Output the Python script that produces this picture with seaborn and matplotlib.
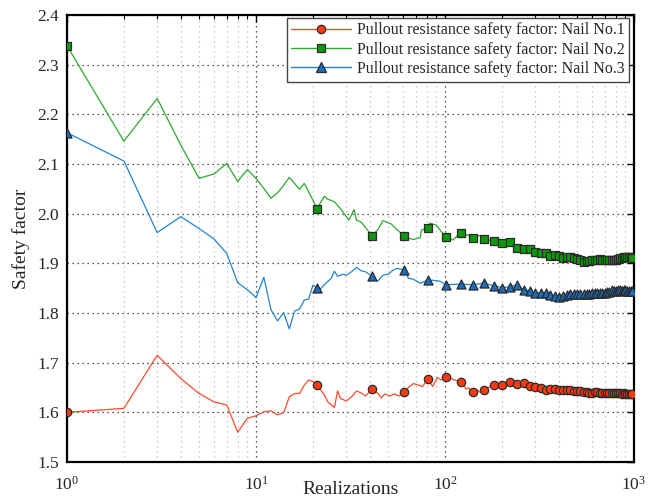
import numpy as np
import pandas as pd
import matplotlib
matplotlib.use("Agg")
import matplotlib.pyplot as plt
from matplotlib.lines import Line2D
from matplotlib.ticker import LogLocator, MultipleLocator, NullFormatter
import seaborn as sns

# ---- data: running safety factor vs. number of realizations ----
nail1_x = [1, 2, 3, 4, 5, 6, 7, 8, 9, 10, 11, 12, 13, 14, 15, 16, 17, 18, 19, 20,
           21, 23, 24, 26, 27, 28, 30, 32, 34, 36, 38, 41, 44, 46, 48, 51, 54, 57,
           61, 64, 68, 72, 76, 81, 86, 91, 96, 101, 104, 110, 116, 121, 125, 129,
           133, 141, 147, 152, 161, 181, 201, 221, 241, 261, 281, 301, 321, 341,
           361, 381, 401, 421, 441, 461, 481, 501, 521, 541, 561, 581, 601, 621,
           641, 661, 681, 701, 721, 741, 761, 781, 801, 821, 841, 861, 881, 901,
           921, 941, 961, 981, 1000]
nail1_sf = [1.600, 1.608, 1.715, 1.668, 1.638, 1.621, 1.615, 1.560, 1.588, 1.593,
            1.601, 1.603, 1.595, 1.599, 1.631, 1.638, 1.638, 1.655, 1.665, 1.662,
            1.655, 1.635, 1.621, 1.610, 1.643, 1.628, 1.623, 1.631, 1.643, 1.639,
            1.633, 1.646, 1.639, 1.629, 1.637, 1.633, 1.637, 1.633,
            1.640, 1.650, 1.658, 1.655, 1.652, 1.667, 1.652, 1.670, 1.665, 1.672,
            1.674, 1.666, 1.664, 1.661, 1.656, 1.647,
            1.649, 1.640, 1.646, 1.641, 1.645, 1.656, 1.655, 1.662, 1.658, 1.660,
            1.653, 1.651, 1.648, 1.645, 1.646, 1.646, 1.645, 1.645, 1.644, 1.644,
            1.643, 1.643, 1.642, 1.641, 1.640, 1.639, 1.639, 1.640, 1.640, 1.639,
            1.639, 1.639, 1.639, 1.638, 1.638, 1.638, 1.638, 1.638, 1.638, 1.637,
            1.638, 1.637, 1.637, 1.637, 1.637, 1.637, 1.636]

nail2_x = [1, 2, 3, 4, 5, 6, 7, 8, 9, 10, 11, 12, 13, 14, 15, 16, 17, 18, 19, 20,
           21, 23, 24, 26, 28, 31, 33, 34, 36, 41, 44, 47, 49, 52, 56, 61, 65, 68,
           74, 75, 81, 83, 90, 96, 101, 105, 110, 115, 121, 127, 131, 135, 141,
           147, 153, 158, 161, 181, 201, 221, 241, 261, 281, 301, 321, 341, 361,
           381, 401, 421, 441, 461, 481, 501, 521, 541, 561, 581, 601, 621, 641,
           661, 681, 701, 721, 741, 761, 781, 801, 821, 841, 861, 881, 901, 921,
           941, 961, 981, 1000]
nail2_sf = [2.338, 2.146, 2.232, 2.138, 2.071, 2.080, 2.101, 2.065, 2.089, 2.071,
            2.051, 2.031, 2.042, 2.057, 2.073, 2.061, 2.049, 2.061, 2.044, 2.027,
            2.010, 2.035, 2.029, 2.024, 2.010, 1.987, 2.008, 1.987, 1.983, 1.956,
            1.967, 1.986, 1.983, 1.979, 1.967, 1.955, 1.950, 1.948,
            1.952, 1.967, 1.971, 1.981, 1.977, 1.963, 1.953, 1.952, 1.947, 1.954,
            1.961, 1.954, 1.958, 1.954, 1.951,
            1.955, 1.956, 1.949, 1.949, 1.945, 1.941, 1.943, 1.930, 1.929, 1.929,
            1.923, 1.920, 1.920, 1.915, 1.917, 1.914, 1.910, 1.912, 1.912, 1.910,
            1.909, 1.907, 1.903, 1.904, 1.905, 1.906, 1.906, 1.907, 1.909, 1.907,
            1.906, 1.906, 1.906, 1.906, 1.907, 1.907, 1.908, 1.910, 1.910, 1.912,
            1.912, 1.913, 1.913, 1.912, 1.911, 1.910]

nail3_x = [1, 2, 3, 4, 5, 6, 7, 8, 9, 10, 11, 12, 13, 14, 15, 16, 17, 18, 19, 20,
           21, 22, 23, 25, 26, 27, 29, 30, 32, 34, 36, 38, 41, 44, 47, 50, 53, 56,
           61, 64, 68, 74, 81, 86, 94, 101, 121, 141, 161, 181, 201, 221, 241,
           261, 281, 301, 321, 341, 361, 381, 401, 421, 441, 461, 481, 501, 521,
           541, 561, 581, 601, 621, 641, 661, 681, 701, 721, 741, 761, 781, 801,
           821, 841, 861, 881, 901, 921, 941, 961, 981, 1000]
nail3_sf = [2.163, 2.106, 1.962, 1.994, 1.970, 1.949, 1.920, 1.861, 1.847, 1.831,
            1.872, 1.807, 1.784, 1.801, 1.768, 1.804, 1.808, 1.826, 1.828, 1.856,
            1.851, 1.849, 1.857, 1.870, 1.884, 1.874, 1.878, 1.876, 1.883, 1.892,
            1.885, 1.883, 1.874, 1.864, 1.876, 1.878, 1.886, 1.890,
            1.886, 1.870, 1.868, 1.860, 1.866, 1.866, 1.864, 1.857, 1.858, 1.857,
            1.860, 1.855, 1.851, 1.853, 1.857,
            1.847, 1.844, 1.841, 1.841, 1.840, 1.837, 1.835, 1.833, 1.834, 1.837,
            1.838, 1.838, 1.838, 1.838, 1.838, 1.839, 1.839, 1.840, 1.840, 1.840,
            1.841, 1.840, 1.840, 1.842, 1.843, 1.846, 1.845, 1.845, 1.846, 1.846,
            1.845, 1.846, 1.846, 1.845, 1.845, 1.845, 1.844, 1.844]

series_labels = ["Pullout resistance safety factor: Nail No.1",
                 "Pullout resistance safety factor: Nail No.2",
                 "Pullout resistance safety factor: Nail No.3"]
line_colors = ["#FF4A2A", "#2CAA2C", "#2283D2"]
face_colors = ["#FF3A10", "#0A9A0A", "#1A6EBE"]
marker_shapes = ["o", "s", "^"]
marker_sizes = [6, 5.5, 6.5]
marker_step = 20  # a marker every 20 realizations, starting at 1

# ---- style ----
sns.set_style("white")
plt.rcParams["font.family"] = ["Liberation Serif", "DejaVu Serif"]
plt.rcParams["mathtext.fontset"] = "custom"
plt.rcParams["mathtext.rm"] = "Liberation Serif"
plt.rcParams["xtick.direction"] = "in"
plt.rcParams["ytick.direction"] = "in"

fig = plt.figure(figsize=(6.61, 5.03), dpi=100)
ax = fig.add_axes([67 / 661, 41 / 503, 567 / 661, 447 / 503])

frames = []
for xs, ys, lab in zip([nail1_x, nail2_x, nail3_x],
                       [nail1_sf, nail2_sf, nail3_sf], series_labels):
    frames.append(pd.DataFrame({"Realizations": xs, "Safety factor": ys, "series": lab}))
df = pd.concat(frames, ignore_index=True)
df["marked"] = (df["Realizations"] - 1) % marker_step == 0

# grid first so it stays underneath
ax.set_xscale("log")
ax.set_xlim(1, 1000)
ax.set_ylim(1.5, 2.4)
ax.yaxis.set_major_locator(MultipleLocator(0.1))
ax.xaxis.set_major_locator(LogLocator(base=10, numticks=10))
ax.xaxis.set_minor_locator(LogLocator(base=10, subs=np.arange(2, 10), numticks=20))
ax.xaxis.set_minor_formatter(NullFormatter())
ax.grid(True, which="major", axis="both", color="#222222", linestyle=(0, (1, 3)), linewidth=0.9)
ax.grid(True, which="minor", axis="x", color="#bbbbbb", linestyle=(0, (1, 3)), linewidth=0.9)
ax.set_axisbelow(True)

for lab, lc in zip(series_labels, line_colors):
    sns.lineplot(data=df[df["series"] == lab], x="Realizations", y="Safety factor",
                 color=lc, linewidth=0.9, estimator=None, sort=False, ax=ax,
                 legend=False)

for lab, fc, mk, ms in zip(series_labels, face_colors, marker_shapes, marker_sizes):
    sub = df[(df["series"] == lab) & df["marked"]]
    sns.scatterplot(data=sub, x="Realizations", y="Safety factor", marker=mk,
                    s=ms ** 2, color=fc, edgecolor="#2a2a2a", linewidth=0.9,
                    ax=ax, legend=False, zorder=4)

ax.set_xlim(1, 1000)
ax.set_ylim(1.5, 2.4)

ax.tick_params(which="both", top=True, right=True, labelsize=12.5, color="black")
ax.tick_params(which="major", length=5, width=1.0)
ax.tick_params(axis="y", which="major", pad=6)
ax.tick_params(axis="x", which="major", pad=10)
ax.tick_params(which="minor", length=3, width=0.8)
for sp in ax.spines.values():
    sp.set_linewidth(1.6)
    sp.set_color("black")

ax.set_xlabel("Realizations", fontsize=14, labelpad=-9)
ax.set_ylabel("Safety factor", fontsize=14, labelpad=5)

handles = [Line2D([0], [0], color=lc, lw=1.0, marker=mk, markersize=ms,
                  markerfacecolor=fc, markeredgecolor="#2a2a2a", markeredgewidth=0.9)
           for lc, fc, mk, ms in zip(line_colors, face_colors, marker_shapes, marker_sizes)]
leg = ax.legend(handles, series_labels, loc="upper right",
                bbox_to_anchor=(0.992, 0.994), borderaxespad=0, fontsize=11.5,
                handlelength=3.7, handletextpad=0.4, labelspacing=0.2,
                borderpad=0.3, fancybox=False, framealpha=1, edgecolor="#444444")
leg.get_frame().set_linewidth(1.0)

fig.savefig("out.png", dpi=100)
